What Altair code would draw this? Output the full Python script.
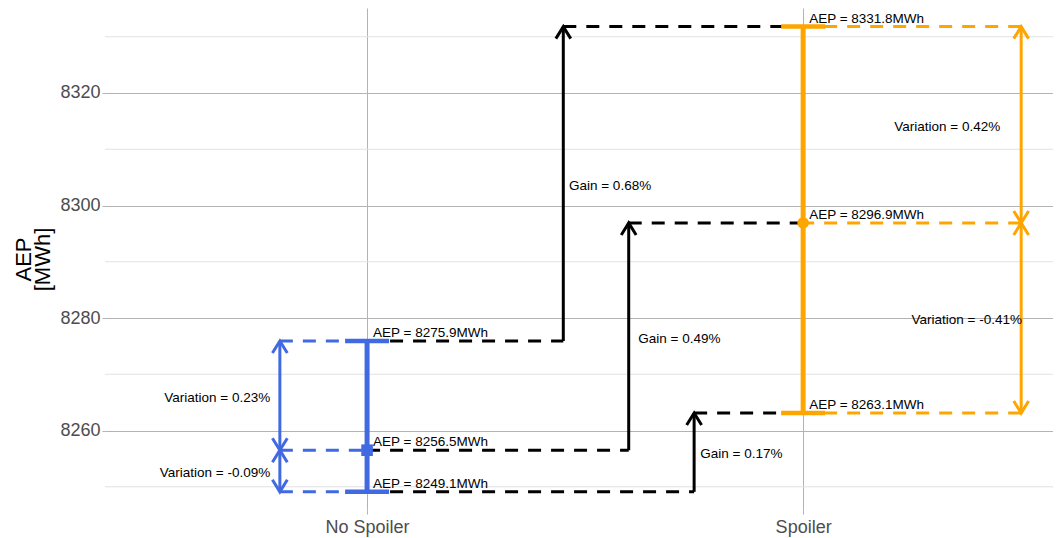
import json
import altair as alt
import pandas as pd

# ---------------- data ----------------
categories = ["No Spoiler", "Spoiler"]
cat_pos = [1, 2]
aep_low = [8249.1, 8263.1]
aep_mid = [8256.5, 8296.9]
aep_high = [8275.9, 8331.8]
colors = ["#4169E1", "#FFA500"]
mid_shapes = ["square", "circle"]

variation_up = ["0.23%", "0.42%"]
variation_down = ["-0.09%", "-0.41%"]
var_arrow_x = [0.80, 2.50]
var_up_label_x = [0.778, 2.452]
var_down_label_x = [0.778, 2.502]

gain_levels = ["high", "mid", "low"]
gain_text = ["0.68%", "0.49%", "0.17%"]
gain_arrow_x = [1.45, 1.60, 1.75]
gain_label_x = [1.463, 1.622, 1.764]

major_ticks = [8260, 8280, 8300, 8320]
minor_grid = [8250, 8270, 8290, 8310, 8330]

# ---------------- build tables ----------------
levels = {"high": aep_high, "mid": aep_mid, "low": aep_low}
UP = "M -0.62 1 L 0 0 L 0.62 1"
DOWN = "M -0.62 -1 L 0 0 L 0.62 -1"

colored_dash, black_dash, shafts, heads = [], [], [], []
bars, caps, points, aep_labels, var_labels, gain_labels = [], [], [], [], [], []

for i in range(2):
    for lvl in ["high", "mid", "low"]:
        colored_dash.append({"x": var_arrow_x[i], "x2": cat_pos[i], "y": levels[lvl][i], "c": colors[i]})
        if lvl in ("high", "low"):
            caps.append({"x": cat_pos[i], "y": levels[lvl][i], "c": colors[i]})
        aep_labels.append({"x": cat_pos[i], "y": levels[lvl][i], "t": f"AEP = {levels[lvl][i]:.1f}MWh"})
    # variation arrows (double headed)
    shafts.append({"x": var_arrow_x[i], "y": aep_mid[i], "y2": aep_high[i], "c": colors[i]})
    shafts.append({"x": var_arrow_x[i], "y": aep_low[i], "y2": aep_mid[i], "c": colors[i]})
    heads += [
        {"x": var_arrow_x[i], "y": aep_high[i], "s": UP, "c": colors[i]},
        {"x": var_arrow_x[i], "y": aep_mid[i], "s": DOWN, "c": colors[i]},
        {"x": var_arrow_x[i], "y": aep_mid[i], "s": UP, "c": colors[i]},
        {"x": var_arrow_x[i], "y": aep_low[i], "s": DOWN, "c": colors[i]},
    ]
    bars.append({"x": cat_pos[i], "y": aep_low[i], "y2": aep_high[i], "c": colors[i]})
    points.append({"x": cat_pos[i], "y": aep_mid[i], "c": colors[i], "s": mid_shapes[i]})
    var_labels.append({"x": var_up_label_x[i], "y": (aep_mid[i] + aep_high[i]) / 2,
                       "t": f"Variation = {variation_up[i]}"})
    var_labels.append({"x": var_down_label_x[i], "y": (aep_low[i] + aep_mid[i]) / 2,
                       "t": f"Variation = {variation_down[i]}"})

for j, lvl in enumerate(gain_levels):
    y0, y1 = levels[lvl][0], levels[lvl][1]
    black_dash.append({"x": cat_pos[0], "x2": gain_arrow_x[j], "y": y0})
    black_dash.append({"x": gain_arrow_x[j], "x2": cat_pos[1], "y": y1})
    shafts.append({"x": gain_arrow_x[j], "y": y0, "y2": y1, "c": "black"})
    heads.append({"x": gain_arrow_x[j], "y": y1, "s": UP, "c": "black"})
    gain_labels.append({"x": gain_label_x[j], "y": (y0 + y1) / 2, "t": f"Gain = {gain_text[j]}"})

# ---------------- scales & axes ----------------
FONT = "Liberation Sans"
xscale = alt.Scale(domain=[0.399, 2.573], nice=False, zero=False)
yscale = alt.Scale(domain=[8245.87, 8335.11], nice=False, zero=False)
label_expr = json.dumps(categories) + "[datum.value - 1]"

xaxis = alt.Axis(values=cat_pos, labelExpr=label_expr, title=None, grid=True,
                 gridColor="#b3b3b3", gridWidth=1, domain=False, ticks=True,
                 tickColor="#b3b3b3", tickSize=4, labelPadding=4, labelFontSize=18,
                 labelColor="#4d4d4d", labelFont=FONT, labelFlush=False)
yaxis = alt.Axis(values=major_ticks, format="d", title=["AEP", "[MWh]"], grid=True,
                 gridColor="#b3b3b3", gridWidth=1, domain=False, ticks=True,
                 tickColor="#b3b3b3", tickSize=3, labelPadding=2, labelFontSize=18,
                 labelColor="#4d4d4d", labelFont=FONT, titleFont=FONT, titleFontSize=22,
                 titleFontWeight="normal", titleColor="black", titleAngle=270,
                 titleX=-82, titleY=251, titleAlign="center", titleBaseline="middle",
                 titleLineHeight=19)

X = alt.X("x:Q", scale=xscale, axis=xaxis)
Y = alt.Y("y:Q", scale=yscale, axis=yaxis)
C = alt.Color("c:N", scale=None)

minor = alt.Chart(pd.DataFrame({"y": minor_grid})).mark_rule(
    color="#e2e2e2", strokeWidth=1).encode(y=Y)

bdash = alt.Chart(pd.DataFrame(black_dash)).mark_rule(
    color="black", strokeWidth=3, strokeDash=[13, 10]).encode(x=X, x2="x2:Q", y=Y)

cdash = alt.Chart(pd.DataFrame(colored_dash)).mark_rule(
    strokeWidth=3, strokeDash=[13, 10]).encode(x=X, x2="x2:Q", y=Y, color=C)

shaft = alt.Chart(pd.DataFrame(shafts)).mark_rule(strokeWidth=3).encode(
    x=X, y=Y, y2="y2:Q", color=C)

head = alt.Chart(pd.DataFrame(heads)).mark_point(
    filled=False, size=576, strokeWidth=3, opacity=1).encode(
    x=X, y=Y, shape=alt.Shape("s:N", scale=None), color=C)

bar = alt.Chart(pd.DataFrame(bars)).mark_rule(strokeWidth=5).encode(
    x=X, y=Y, y2="y2:Q", color=C)

cap = alt.Chart(pd.DataFrame(caps)).mark_tick(
    orient="horizontal", size=44, thickness=4.5, opacity=1).encode(x=X, y=Y, color=C)

pt = alt.Chart(pd.DataFrame(points)).mark_point(
    filled=True, size=135, opacity=1).encode(
    x=X, y=Y, color=C, shape=alt.Shape("s:N", scale=None))

aep_txt = alt.Chart(pd.DataFrame(aep_labels)).mark_text(
    align="left", baseline="alphabetic", dx=6, dy=-4, font=FONT, fontSize=13.5,
    color="black").encode(x=X, y=Y, text="t:N")

var_txt = alt.Chart(pd.DataFrame(var_labels)).mark_text(
    align="right", baseline="middle", dy=2, font=FONT, fontSize=13.5,
    color="black").encode(x=X, y=Y, text="t:N")

gain_txt = alt.Chart(pd.DataFrame(gain_labels)).mark_text(
    align="left", baseline="middle", dy=2, font=FONT, fontSize=13.5,
    color="black").encode(x=X, y=Y, text="t:N")

chart = alt.layer(
    minor, bdash, cdash, shaft, head, bar, cap, pt, aep_txt, var_txt, gain_txt
).properties(
    width=948, height=502,
    autosize=alt.AutoSizeParams(type="none"),
    padding={"left": 97, "top": 0, "right": 0, "bottom": 28},
    background="white",
).configure_view(stroke=None)

chart.save("out.html", embed_options={"renderer": "svg", "actions": False})
